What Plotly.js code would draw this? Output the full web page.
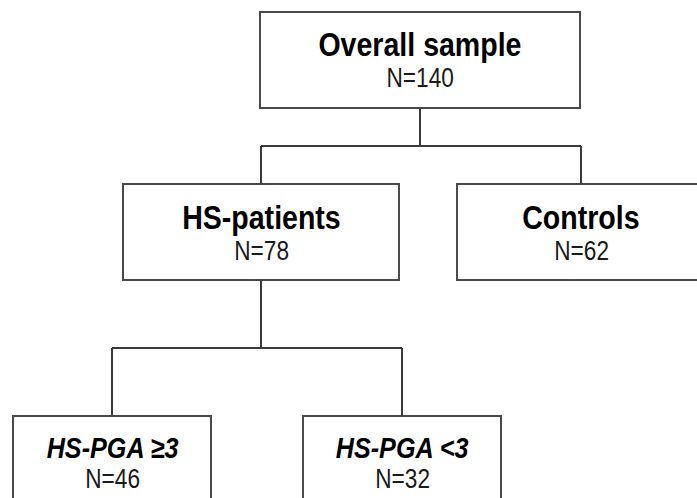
<!DOCTYPE html>
<html>
<head>
<meta charset="utf-8">
<script src="https://cdn.plot.ly/plotly-3.0.1.min.js"></script>
<style>
html,body{margin:0;padding:0;background:#fff;}
#chart{width:697px;height:498px;}
/* emulate the condensed (Arial Narrow-like) face of the reference */
#chart .annotation-text{transform-box:fill-box;transform-origin:center;transform:scaleX(0.84);}
</style>
</head>
<body>
<div id="chart"></div>
<script>
// ---- data ----
const labels = ["Overall sample", "HS-patients", "Controls", "HS-PGA ≥3", "HS-PGA <3"];
const counts = [140, 78, 62, 46, 32];
const parents = [null, 0, 0, 1, 1];
const italic = [false, false, false, true, true];

// ---- layout geometry (positions, not data) ----
const cx = [420, 261, 581, 112, 402];
const boxTop = [12, 184, 184, 416, 416];
const halfW = [160, 138, 124, 99, 99];
const boxH = 96;
const branchY = {0: 146, 1: 348};
const titleSize = [34, 34, 34, 30, 30];
const titleDy = [32, 33, 33, 31, 31];
const nDy = [66, 67, 67, 63, 63];

const FONT = "'Liberation Sans Narrow', 'Arial Narrow', 'Liberation Sans', Arial, sans-serif";
const lineColor = "#3a3a3a";

const shapes = [];
const annotations = [];

labels.forEach((lab, i) => {
  shapes.push({
    type: "rect", xref: "x", yref: "y",
    x0: cx[i] - halfW[i], x1: cx[i] + halfW[i],
    y0: boxTop[i], y1: boxTop[i] + boxH,
    line: {color: "#4a4a4a", width: 2}, fillcolor: "rgba(0,0,0,0)"
  });
  const t = italic[i] ? "<b><i>" + lab + "</i></b>" : "<b>" + lab + "</b>";
  annotations.push({
    xref: "x", yref: "y", x: cx[i], y: boxTop[i] + titleDy[i], text: t, showarrow: false,
    xanchor: "center", yanchor: "middle",
    font: {family: FONT, size: titleSize[i], color: "#000"}
  });
  annotations.push({
    xref: "x", yref: "y", x: cx[i], y: boxTop[i] + nDy[i], text: "N=" + counts[i], showarrow: false,
    xanchor: "center", yanchor: "middle",
    font: {family: FONT, size: 27, color: "#1a1a1a"}
  });
});

// connectors
Object.keys(branchY).forEach(pk => {
  const p = +pk;
  const by = branchY[p];
  const kids = parents.map((q, i) => q === p ? i : -1).filter(i => i >= 0);
  shapes.push({type: "line", xref: "x", yref: "y", x0: cx[p], x1: cx[p], y0: boxTop[p] + boxH, y1: by,
    line: {color: lineColor, width: 2}});
  const xs = kids.map(k => cx[k]);
  shapes.push({type: "line", xref: "x", yref: "y", x0: Math.min(...xs), x1: Math.max(...xs), y0: by, y1: by,
    line: {color: lineColor, width: 2}});
  kids.forEach(k => {
    shapes.push({type: "line", xref: "x", yref: "y", x0: cx[k], x1: cx[k], y0: by, y1: boxTop[k],
      line: {color: lineColor, width: 2}});
  });
});

const layout = {
  width: 697, height: 498,
  margin: {l: 0, r: 0, t: 0, b: 0},
  paper_bgcolor: "#fff", plot_bgcolor: "#fff",
  xaxis: {range: [0, 697], visible: false, fixedrange: true},
  yaxis: {range: [498, 0], visible: false, fixedrange: true},
  showlegend: false,
  shapes: shapes,
  annotations: annotations
};

Plotly.newPlot("chart", [{x: [], y: [], type: "scatter", mode: "markers", hoverinfo: "skip"}], layout, {staticPlot: true, displayModeBar: false});
</script>
</body>
</html>
